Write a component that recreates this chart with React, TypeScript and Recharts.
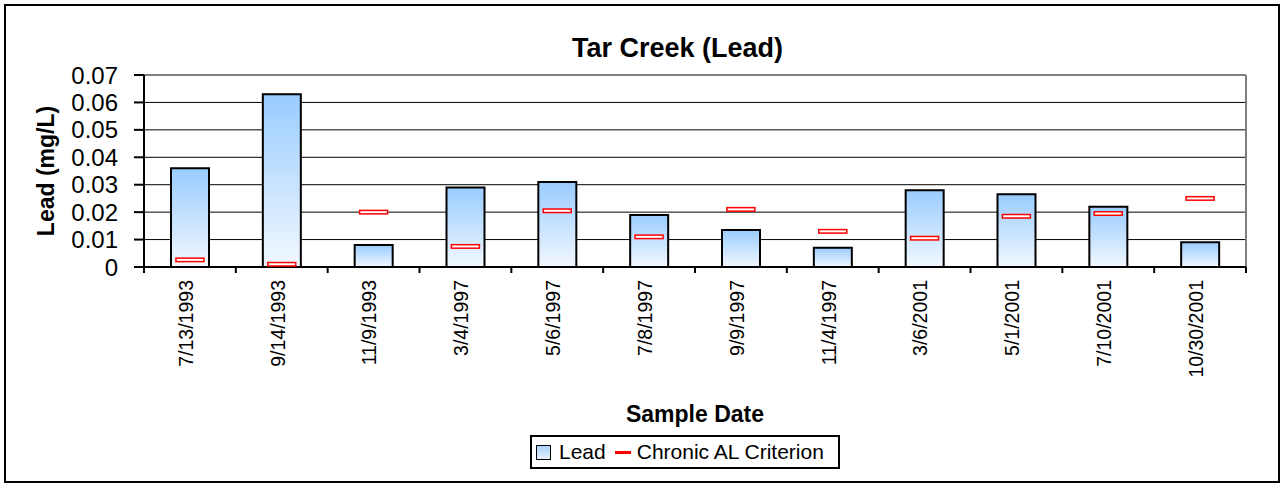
import {
  Bar,
  CartesianGrid,
  ComposedChart,
  Label,
  Legend,
  Line,
  ReferenceLine,
  XAxis,
  YAxis,
} from "recharts";

const FONT = "'Liberation Sans', Arial, sans-serif";

const sampleDates = [
  "7/13/1993",
  "9/14/1993",
  "11/9/1993",
  "3/4/1997",
  "5/6/1997",
  "7/8/1997",
  "9/9/1997",
  "11/4/1997",
  "3/6/2001",
  "5/1/2001",
  "7/10/2001",
  "10/30/2001",
];
const leadValues = [
  0.036, 0.063, 0.008, 0.029, 0.031, 0.019, 0.0135, 0.007, 0.028, 0.0265,
  0.022, 0.009,
];
const chronicAL = [
  0.0026, 0.001, 0.02, 0.0075, 0.0205, 0.011, 0.021, 0.013, 0.0105, 0.0185,
  0.0195, 0.025,
];
const yTicks = [0, 0.01, 0.02, 0.03, 0.04, 0.05, 0.06, 0.07];

const data = sampleDates.map((date, i) => ({
  date,
  lead: leadValues[i],
  chronic: chronicAL[i],
}));

function DateTick(props: any) {
  const { x, y, payload, index, visibleTicksCount } = props;
  const half = payload?.offset || 46;
  const last = index === visibleTicksCount - 1;
  return (
    <g>
      <line x1={x - half} x2={x - half} y1={y} y2={y + 6} stroke="#000" strokeWidth={2} />
      {last && (
        <line x1={x + half} x2={x + half} y1={y} y2={y + 6} stroke="#000" strokeWidth={2} />
      )}
      <text
        x={x - 4}
        y={y + 13}
        transform={`rotate(-90, ${x - 4}, ${y + 13})`}
        textAnchor="end"
        dy="0.35em"
        fontSize={19.5}
        fontFamily={FONT}
        fill="#000"
      >
        {payload.value}
      </text>
    </g>
  );
}

function CriterionDash(props: any) {
  const { cx, cy, index } = props;
  if (cx == null || cy == null) return <g key={index} />;
  return (
    <rect
      key={index}
      x={cx - 14}
      y={cy - 1.75}
      width={28}
      height={3.5}
      fill="#fff"
      stroke="#ff0000"
      strokeWidth={1.5}
    />
  );
}

function LegendBox() {
  return (
    <div
      style={{
        display: "flex",
        alignItems: "center",
        height: "100%",
        paddingLeft: 4,
        fontFamily: FONT,
        fontSize: 21,
        color: "#000",
        whiteSpace: "nowrap",
      }}
    >
      <span
        style={{
          width: 13,
          height: 13,
          border: "1.5px solid #000",
          background: "linear-gradient(#a8d2fc, #e4f0fd)",
          marginRight: 8,
        }}
      />
      <span>Lead</span>
      <span
        style={{
          width: 16,
          height: 3,
          background: "#ff0000",
          marginLeft: 9,
          marginRight: 6,
        }}
      />
      <span>Chronic AL Criterion</span>
    </div>
  );
}

function YTitle(props: any) {
  const vb = props.viewBox || { x: 0, y: 75, width: 144, height: 192 };
  const cy = vb.y + vb.height / 2;
  return (
    <text
      x={46}
      y={cy}
      transform={`rotate(-90, 46, ${cy})`}
      textAnchor="middle"
      dy="0.35em"
      fontSize={23}
      fontWeight={700}
      fontFamily={FONT}
      fill="#000"
    >
      Lead (mg/L)
    </text>
  );
}

export default function App() {
  return (
    <div
      style={{
        position: "absolute",
        left: 0,
        top: 0,
        width: 1281,
        height: 487,
        background: "#fff",
        fontFamily: FONT,
      }}
    >
      <div
        style={{
          position: "absolute",
          left: 4,
          top: 4,
          width: 1276,
          height: 479,
          border: "2px solid #000",
          boxSizing: "border-box",
        }}
      />
      <div
        style={{
          position: "absolute",
          left: 0,
          top: 35,
          width: 1355,
          textAlign: "center",
          fontSize: 27,
          lineHeight: "26px",
          fontWeight: 700,
          color: "#000",
        }}
      >
        Tar Creek (Lead)
      </div>
      <div style={{ position: "absolute", left: 0, top: 0 }}>
        <ComposedChart
          width={1281}
          height={487}
          data={data}
          margin={{ top: 75, right: 35, left: 0, bottom: 0 }}
          barCategoryGap="58%"
        >
          <defs>
            <linearGradient id="leadFill" x1="0" y1="0" x2="0" y2="1">
              <stop offset="0%" stopColor="#99ccff" />
              <stop offset="100%" stopColor="#f2f8ff" />
            </linearGradient>
          </defs>
          <CartesianGrid horizontal vertical={false} stroke="#000" strokeWidth={1} />
          <ReferenceLine y={0.07} stroke="#808080" strokeWidth={2} />
          <ReferenceLine
            x={sampleDates[sampleDates.length - 1]}
            position="end"
            stroke="#808080"
            strokeWidth={2}
          />
          <XAxis
            dataKey="date"
            height={220}
            interval={0}
            tickSize={0}
            tickMargin={0}
            tickLine={false}
            axisLine={{ stroke: "#000", strokeWidth: 2 }}
            tick={<DateTick />}
            label={{
              value: "Sample Date",
              position: "insideBottom",
              offset: 65,
              fontSize: 23,
              fontWeight: 700,
              fill: "#000",
              fontFamily: FONT,
            }}
          />
          <YAxis
            width={144}
            domain={[0, 0.07]}
            ticks={yTicks}
            interval={0}
            tickSize={10}
            tickMargin={16}
            tickLine={{ stroke: "#000", strokeWidth: 2 }}
            axisLine={{ stroke: "#000", strokeWidth: 2 }}
            tick={{ fontSize: 24, fill: "#000", fontFamily: FONT }}
            tickFormatter={(v: number) => (v === 0 ? "0" : String(v))}
          >
            <Label content={<YTitle />} />
          </YAxis>
          <Legend
            layout="horizontal"
            verticalAlign="middle"
            align="center"
            content={<LegendBox />}
            wrapperStyle={{
              left: 530,
              top: 435,
              width: 310,
              height: 34,
              border: "2px solid #000",
              boxSizing: "border-box",
              background: "#fff",
            }}
          />
          <Bar
            dataKey="lead"
            name="Lead"
            fill="url(#leadFill)"
            stroke="#000"
            strokeWidth={2}
            barSize={38}
            isAnimationActive={false}
          />
          <Line
            dataKey="chronic"
            name="Chronic AL Criterion"
            stroke="none"
            dot={<CriterionDash />}
            activeDot={false}
            isAnimationActive={false}
          />
        </ComposedChart>
      </div>
    </div>
  );
}
